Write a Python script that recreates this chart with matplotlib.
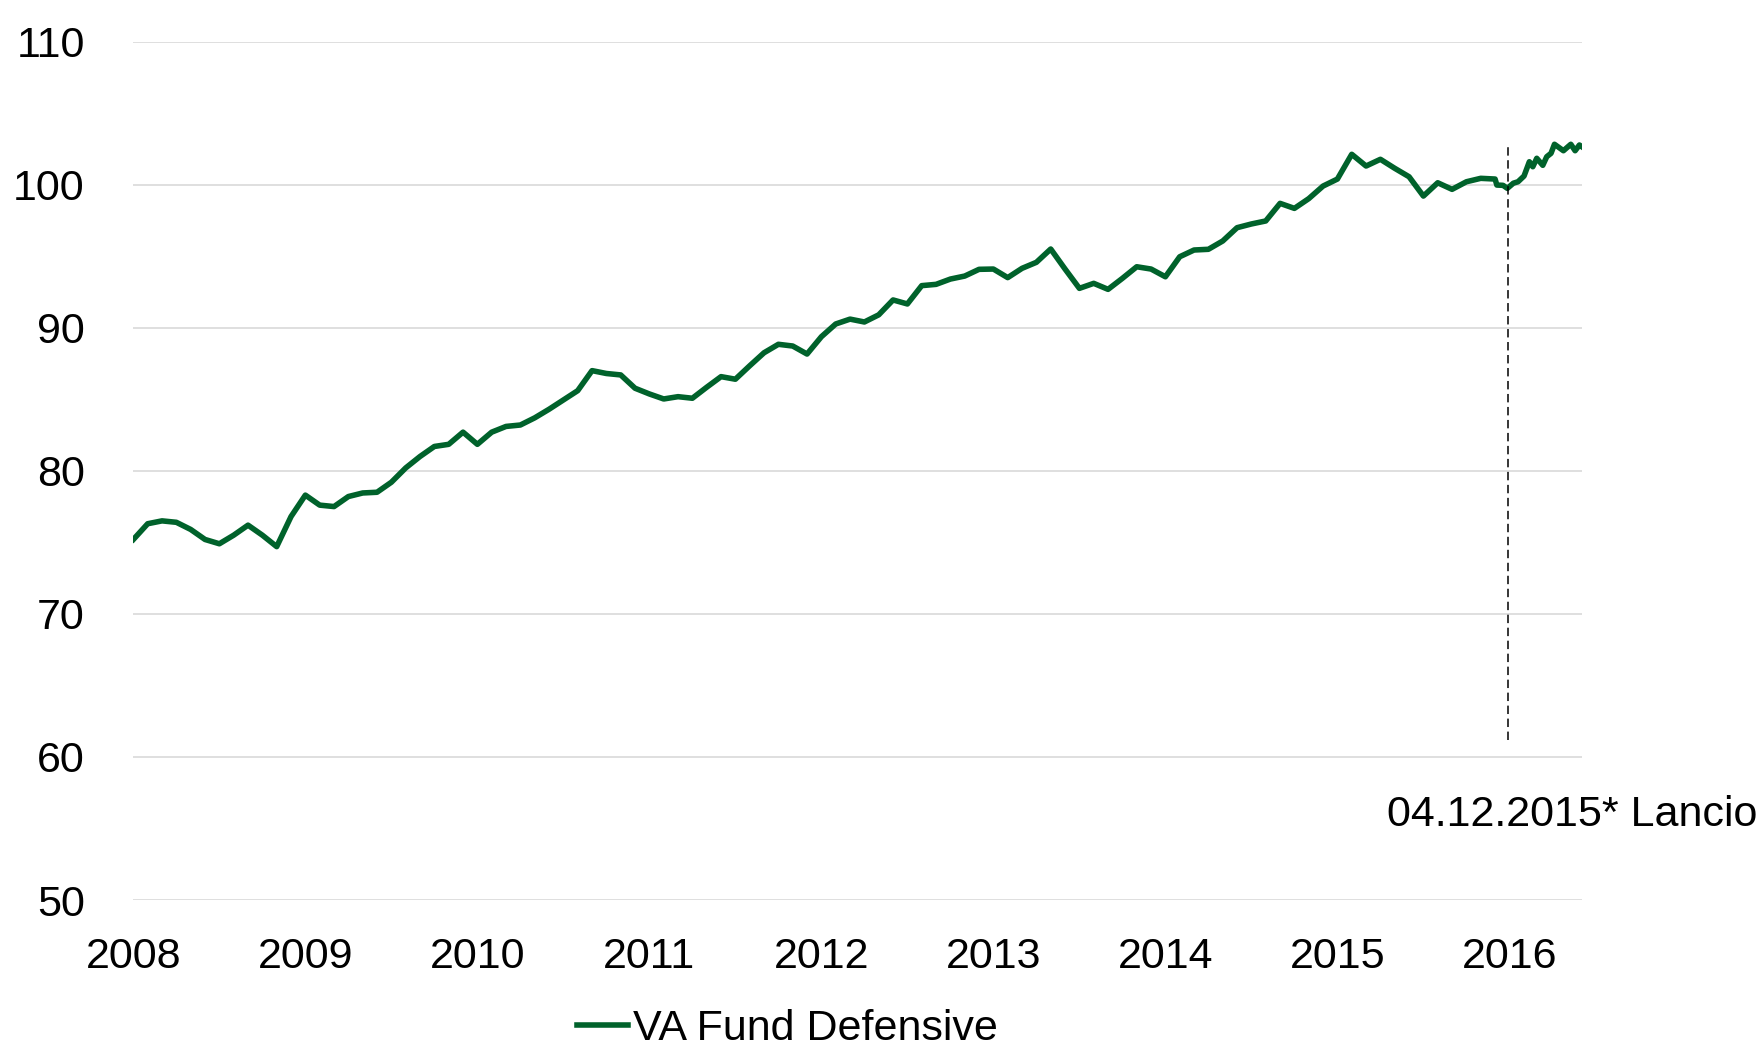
import matplotlib
matplotlib.use("Agg")
import matplotlib.pyplot as plt
import numpy as np

plt.rcParams['font.family'] = ['Liberation Sans', 'DejaVu Sans']

# monthly index values, Jan 2008 .. Dec 2015
monthly = [
    75.2, 76.3, 76.5, 76.4, 75.9, 75.2, 74.9, 75.5, 76.2, 75.5, 74.7, 76.8,
    78.3, 77.6, 77.5, 78.2, 78.45, 78.5, 79.2, 80.2, 81.0, 81.7, 81.85, 82.7,
    81.85, 82.7, 83.1, 83.2, 83.7, 84.3, 84.95, 85.6, 87.0, 86.8, 86.7, 85.77,
    85.37, 85.02, 85.18, 85.07, 85.84, 86.58, 86.4, 87.34, 88.25, 88.84, 88.72, 88.16,
    89.37, 90.26, 90.6, 90.4, 90.9, 91.94, 91.66, 92.94, 93.03, 93.4, 93.61, 94.08,
    94.1, 93.5, 94.15, 94.57, 95.5, 94.1, 92.75, 93.1, 92.68, 93.45, 94.26, 94.1,
    93.56, 94.96, 95.43, 95.48, 96.06, 96.99, 97.25, 97.46, 98.69, 98.34, 99.02, 99.9,
    100.39, 102.12, 101.3, 101.77, 101.14, 100.55, 99.2, 100.13, 99.67, 100.2, 100.44, 100.39,
]

# after the launch the series is denser (decimal years)
launch_x = [2015.927, 2015.963, 2015.988, 2016.023, 2016.050, 2016.085, 2016.116,
            2016.136, 2016.159, 2016.194, 2016.217, 2016.242, 2016.262, 2016.314,
            2016.357, 2016.382, 2016.407, 2016.421]
launch_y = [99.97, 99.95, 99.74, 100.1, 100.2, 100.6, 101.6,
            101.25, 101.84, 101.35, 101.95, 102.19, 102.82, 102.37,
            102.82, 102.37, 102.77, 102.65]

launch_date = 2015.99
launch_label = "04.12.2015* Lancio"
series_name = "VA Fund Defensive"
years = list(range(2008, 2017))
yticks = list(range(50, 111, 10))

green = "#00622b"

x = list(2008 + np.arange(len(monthly)) / 12.0) + launch_x
y = monthly + launch_y

fig = plt.figure(figsize=(17.57, 10.49), dpi=100)
ax = fig.add_axes([0.0759, 0.142, 0.9002 - 0.0759, 0.9604 - 0.142])

ax.plot(x, y, color=green, lw=4.0, label=series_name, solid_joinstyle='round')
ax.plot([launch_date, launch_date], [61.2, 102.9], color='black', lw=1.1,
        dashes=(5.5, 3))

ax.text(2015.289, 55.95, launch_label, ha='left', va='center', fontsize=31,
        clip_on=False)

ax.set_xlim(2008, 2016.42)
ax.set_ylim(50, 110)
ax.set_xticks(years)
ax.set_xticklabels([str(v) for v in years])
ax.set_yticks(yticks)
ax.set_yticklabels([str(v) for v in yticks])
ax.tick_params(axis='both', length=0, labelsize=31)
ax.tick_params(axis='y', pad=35)
ax.tick_params(axis='x', pad=26.5)
ax.grid(axis='y', color='#d9d9d9', lw=1.2)
ax.set_axisbelow(True)
for s in ax.spines.values():
    s.set_visible(False)

fig.legend(loc='center', bbox_to_anchor=(0.448, 1 - 1029 / 1049), frameon=False,
           fontsize=31, handlelength=1.2, handletextpad=0.1, borderpad=0.2)

fig.savefig("out.png", dpi=100)
